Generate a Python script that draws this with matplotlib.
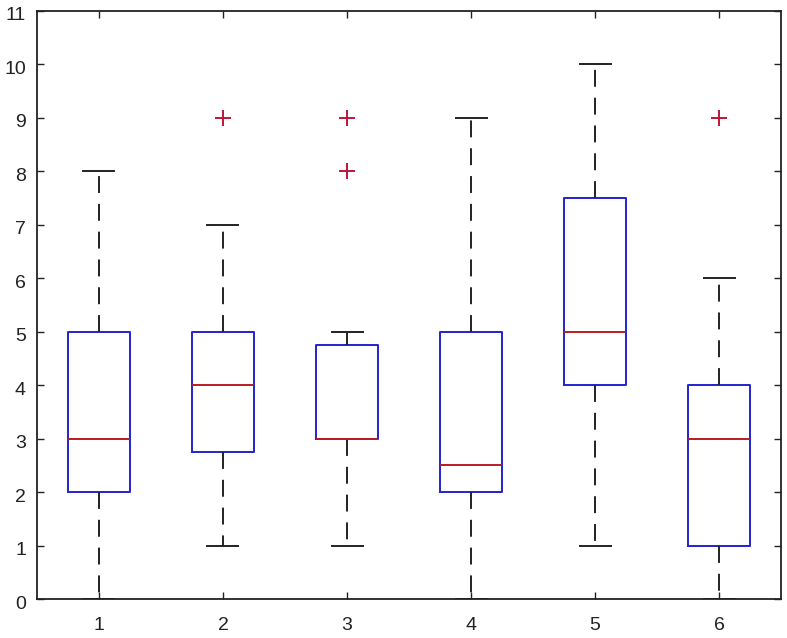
import matplotlib
matplotlib.use('Agg')
import matplotlib.pyplot as plt
from matplotlib.transforms import ScaledTranslation

# Box statistics
positions = [1, 2, 3, 4, 5, 6]
whislo = [0, 1, 1, 0, 1, 0]
q1 = [2, 2.75, 3, 2, 4, 1]
med = [3, 4, 3, 2.5, 5, 3]
q3 = [5, 5, 4.75, 5, 7.5, 4]
whishi = [8, 7, 5, 9, 10, 6]
fliers = [[], [9], [8, 9], [], [], [9]]

plt.rcParams['font.family'] = ['Liberation Sans', 'DejaVu Sans']

stats = []
for i in range(len(positions)):
    stats.append({
        'whislo': whislo[i], 'q1': q1[i], 'med': med[i],
        'q3': q3[i], 'whishi': whishi[i], 'fliers': fliers[i],
    })

fig = plt.figure(figsize=(7.87, 6.38), dpi=100)
ax = fig.add_axes([0.047, 0.061, 0.9454, 0.9218])

ax.bxp(
    stats, positions=positions, widths=0.5, showfliers=True,
    boxprops=dict(color='#2222d0', linewidth=1.4),
    medianprops=dict(color='#b81c24', linewidth=1.4),
    whiskerprops=dict(color='#222222', linewidth=1.4, linestyle=(0, (8.7, 5.6))),
    capprops=dict(color='#222222', linewidth=1.4),
    flierprops=dict(marker='+', markeredgecolor='#c0143c', markersize=11,
                    markeredgewidth=1.4, linestyle='none'),
    capwidths=0.25,
)

ax.set_xlim(0.5, 6.5)
ax.set_ylim(0, 11)
ax.set_yticks(range(0, 12))
ax.set_xticks(positions)
ax.set_xticklabels([str(p) for p in positions])
ax.tick_params(direction='in', top=True, right=True, length=5,
               labelsize=14, width=1, colors='#222222')
ax.tick_params(axis='x', pad=13)
ax.tick_params(axis='y', pad=8)
# y labels sit slightly below their ticks in the original
shift = ScaledTranslation(0, -0.03, fig.dpi_scale_trans)
for lab in ax.get_yticklabels():
    lab.set_transform(lab.get_transform() + shift)
for s in ax.spines.values():
    s.set_linewidth(1.3)
    s.set_color('#222222')

fig.savefig('out.png', dpi=100)
